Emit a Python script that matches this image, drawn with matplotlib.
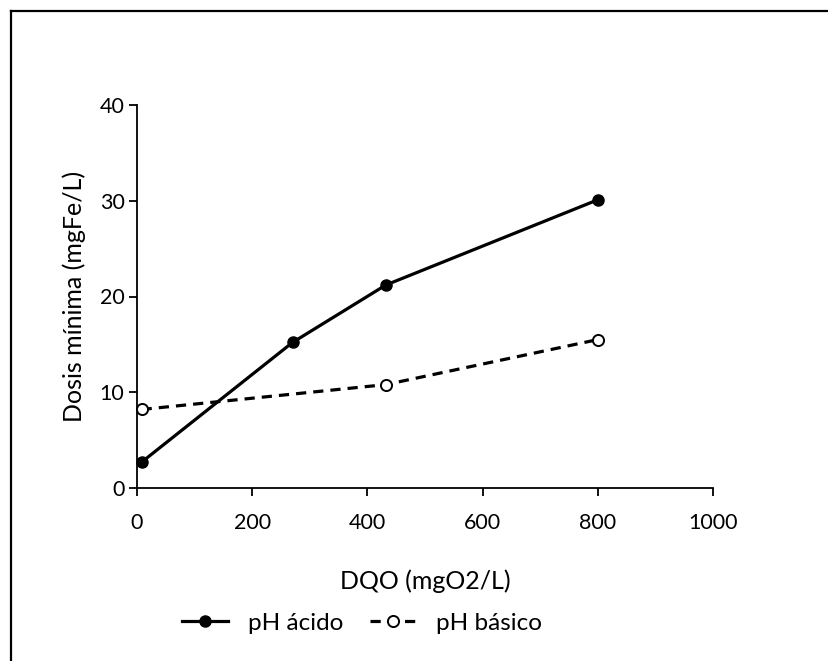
import matplotlib
matplotlib.use('Agg')
import matplotlib.pyplot as plt
from matplotlib.lines import Line2D

plt.rcParams['font.family'] = ['Lato', 'DejaVu Sans']

# data
dqo_acido = [8, 270, 432, 800]
dosis_acido = [2.7, 15.2, 21.2, 30.1]
dqo_basico = [8, 432, 800]
dosis_basico = [8.2, 10.8, 15.5]

x_ticks = [0, 200, 400, 600, 800, 1000]
y_ticks = [0, 10, 20, 30, 40]

fig = plt.figure(figsize=(8.29, 6.61), dpi=100)
fig.patch.set_facecolor('white')

# partial frame (only top and left edges visible in the reference)
fig.add_artist(Line2D([11/829, 1.0], [1 - 11/661, 1 - 11/661],
                      transform=fig.transFigure, color='black', lw=1.6))
fig.add_artist(Line2D([11/829, 11/829], [0.0, 1 - 11/661],
                      transform=fig.transFigure, color='black', lw=1.6))

ax = fig.add_axes([137/829, 1 - 488/661, 576/829, 383/661])

ax.plot(dqo_acido, dosis_acido, color='black', lw=2.3, marker='o',
        markersize=8, markerfacecolor='black', markeredgecolor='black',
        label='pH ácido', clip_on=False, zorder=3)
ax.plot(dqo_basico, dosis_basico, color='black', lw=2.3, linestyle=(0, (3.2, 2.2)),
        marker='o', markersize=8, markerfacecolor='white',
        markeredgecolor='black', markeredgewidth=1.4,
        label='pH básico', clip_on=False, zorder=3)

ax.set_xlim(0, 1000)
ax.set_ylim(0, 40)
ax.set_xticks(x_ticks)
ax.set_yticks(y_ticks)

for s in ['top', 'right']:
    ax.spines[s].set_visible(False)
for s in ['left', 'bottom']:
    ax.spines[s].set_linewidth(1.3)

ax.tick_params(direction='out', length=6, width=1.3, labelsize=15.5)
ax.tick_params(axis='x', pad=12)
ax.tick_params(axis='y', pad=3)

ax.set_xlabel('DQO (mgO2/L)', fontsize=18, labelpad=26)
ax.set_ylabel('Dosis mínima (mgFe/L)', fontsize=18, labelpad=10)

fig.legend(loc='center', bbox_to_anchor=(362/829, 1 - 623/661), ncol=2,
           frameon=False, fontsize=17.5, handlelength=1.9, columnspacing=1.1,
           handletextpad=0.8)

plt.savefig('out.png', dpi=100, facecolor='white')
